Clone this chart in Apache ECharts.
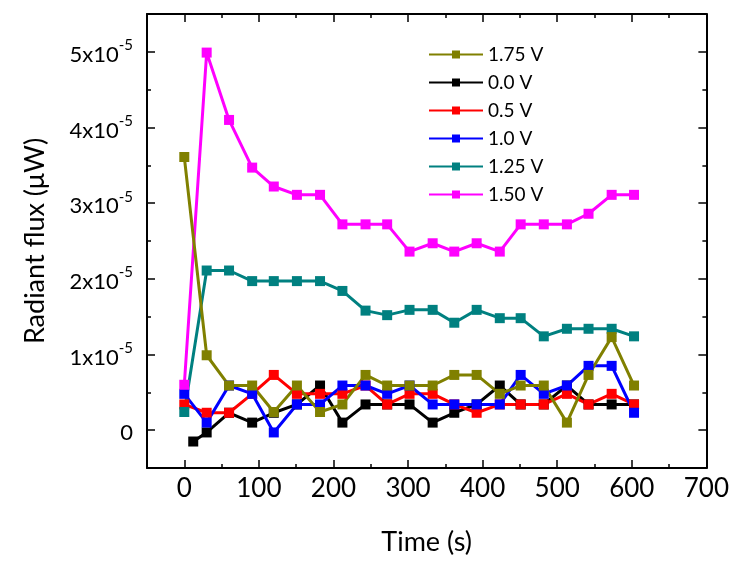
<!DOCTYPE html>
<html>
<head>
<meta charset="utf-8">
<script src="https://cdn.jsdelivr.net/npm/echarts@6/dist/echarts.min.js"></script>
<style>
  html, body { margin: 0; padding: 0; background: #fff; }
  #chart { width: 732px; height: 561px; }
</style>
</head>
<body>
<div id="chart"></div>
<script>
// Sampling times (s); the 0.0 V run starts a little later
const times = [0, 30, 60, 91, 120, 151, 182, 212, 243, 272, 302, 333, 362, 392, 423, 451, 482, 513, 542, 573, 603];
const timesZeroV = [12, 30, 60, 91, 120, 151, 182, 212, 243, 272, 302, 333, 362, 392, 423, 451, 482, 513, 542, 573, 603];

// Radiant flux (µW) for each bias voltage
const flux175 = [3.61e-5, 0.99e-5, 0.59e-5, 0.59e-5, 0.24e-5, 0.59e-5, 0.24e-5, 0.34e-5, 0.73e-5, 0.59e-5, 0.59e-5, 0.59e-5, 0.73e-5, 0.73e-5, 0.48e-5, 0.59e-5, 0.59e-5, 0.10e-5, 0.73e-5, 1.23e-5, 0.59e-5];
const flux000 = [-0.15e-5, -0.03e-5, 0.23e-5, 0.10e-5, 0.23e-5, 0.34e-5, 0.59e-5, 0.10e-5, 0.34e-5, 0.34e-5, 0.34e-5, 0.10e-5, 0.23e-5, 0.34e-5, 0.59e-5, 0.34e-5, 0.34e-5, 0.59e-5, 0.34e-5, 0.34e-5, 0.34e-5];
const flux050 = [0.34e-5, 0.23e-5, 0.23e-5, 0.48e-5, 0.73e-5, 0.48e-5, 0.48e-5, 0.48e-5, 0.59e-5, 0.34e-5, 0.48e-5, 0.48e-5, 0.34e-5, 0.23e-5, 0.34e-5, 0.34e-5, 0.34e-5, 0.48e-5, 0.34e-5, 0.48e-5, 0.34e-5];
const flux100 = [0.48e-5, 0.10e-5, 0.59e-5, 0.48e-5, -0.03e-5, 0.34e-5, 0.34e-5, 0.59e-5, 0.59e-5, 0.48e-5, 0.59e-5, 0.34e-5, 0.34e-5, 0.34e-5, 0.34e-5, 0.73e-5, 0.48e-5, 0.59e-5, 0.85e-5, 0.85e-5, 0.23e-5];
const flux125 = [0.24e-5, 2.11e-5, 2.11e-5, 1.97e-5, 1.97e-5, 1.97e-5, 1.97e-5, 1.84e-5, 1.58e-5, 1.52e-5, 1.59e-5, 1.59e-5, 1.42e-5, 1.59e-5, 1.48e-5, 1.48e-5, 1.24e-5, 1.34e-5, 1.34e-5, 1.34e-5, 1.24e-5];
const flux150 = [0.60e-5, 4.99e-5, 4.10e-5, 3.47e-5, 3.22e-5, 3.11e-5, 3.11e-5, 2.72e-5, 2.72e-5, 2.72e-5, 2.36e-5, 2.47e-5, 2.36e-5, 2.47e-5, 2.36e-5, 2.72e-5, 2.72e-5, 2.72e-5, 2.86e-5, 3.11e-5, 3.11e-5];

// Legend order
const legendOrder = ['1.75 V', '0.0 V', '0.5 V', '1.0 V', '1.25 V', '1.50 V'];

// Axis ticks
const xMajorTicks = [0, 100, 200, 300, 400, 500, 600, 700];
const xMinorTicks = [-50, 50, 150, 250, 350, 450, 550, 650];
const yMajorTicks = [0, 1e-5, 2e-5, 3e-5, 4e-5, 5e-5];
const yMinorTicks = [-0.5e-5, 0.5e-5, 1.5e-5, 2.5e-5, 3.5e-5, 4.5e-5, 5.5e-5];

const FONT = 'Lato';
const X_RANGE = [-50, 700];
const Y_RANGE = [-0.5e-5, 5.5e-5];

function tickAxis(base, ticks, len, withLine) {
  return Object.assign({
    type: 'value',
    axisLine: { show: withLine, onZero: false, lineStyle: { color: '#000', width: 2 } },
    axisTick: { show: true, inside: true, length: len, customValues: ticks, lineStyle: { color: '#000', width: 1.5 } },
    axisLabel: { show: false },
    splitLine: { show: false }
  }, base);
}

const xAxes = [
  // bottom axis with labels and title
  tickAxis({
    position: 'bottom', min: X_RANGE[0], max: X_RANGE[1],
    name: 'Time (s)', nameLocation: 'middle', nameGap: 61,
    nameTextStyle: { fontFamily: FONT, fontSize: 27, color: '#000' },
    axisLabel: { show: true, customValues: xMajorTicks, fontFamily: FONT, fontSize: 26, color: '#000', margin: 8 }
  }, xMajorTicks, 8, true),
  tickAxis({ position: 'bottom', min: X_RANGE[0], max: X_RANGE[1] }, xMinorTicks, 4, false),
  tickAxis({ position: 'top', min: X_RANGE[0], max: X_RANGE[1] }, xMajorTicks, 8, true),
  tickAxis({ position: 'top', min: X_RANGE[0], max: X_RANGE[1] }, xMinorTicks, 4, false)
];

const yAxes = [
  tickAxis({
    position: 'left', min: Y_RANGE[0], max: Y_RANGE[1],
    name: 'Radiant flux (\u03BCW)', nameLocation: 'middle', nameGap: 98, nameRotate: 90,
    nameTextStyle: { fontFamily: FONT, fontSize: 27, color: '#000' },
    axisLabel: {
      show: true, customValues: yMajorTicks, margin: 14, color: '#000',
      fontFamily: FONT, fontSize: 22,
      formatter: function (v) {
        const n = Math.round(v / 1e-5);
        return n === 0 ? '{m|0}' : '{m|' + n + 'x10}{s|-5}';
      },
      rich: {
        m: { fontFamily: FONT, fontSize: 22, color: '#000', lineHeight: 28, verticalAlign: 'bottom' },
        s: { fontFamily: FONT, fontSize: 15, color: '#000', lineHeight: 28, verticalAlign: 'top' }
      }
    }
  }, yMajorTicks, 8, true),
  tickAxis({ position: 'left', min: Y_RANGE[0], max: Y_RANGE[1] }, yMinorTicks, 4, false),
  tickAxis({ position: 'right', min: Y_RANGE[0], max: Y_RANGE[1] }, yMajorTicks, 8, true),
  tickAxis({ position: 'right', min: Y_RANGE[0], max: Y_RANGE[1] }, yMinorTicks, 4, false)
];

function makeSeries(name, t, vals, color) {
  return {
    name: name,
    type: 'line',
    xAxisIndex: 0,
    yAxisIndex: 0,
    data: t.map(function (x, i) { return [x, vals[i]]; }),
    symbol: 'rect',
    symbolSize: 10,
    showAllSymbol: true,
    lineStyle: { color: color, width: 3 },
    itemStyle: { color: color },
    emphasis: { disabled: true },
    animation: false
  };
}

const series = [
  makeSeries('0.0 V', timesZeroV, flux000, '#000000'),
  makeSeries('0.5 V', times, flux050, '#ff0000'),
  makeSeries('1.0 V', times, flux100, '#0000ff'),
  makeSeries('1.25 V', times, flux125, '#008080'),
  makeSeries('1.50 V', times, flux150, '#ff00ff'),
  makeSeries('1.75 V', times, flux175, '#808000')
];

const chart = echarts.init(document.getElementById('chart'), null, { renderer: 'canvas' });
chart.setOption({
  animation: false,
  backgroundColor: '#ffffff',
  grid: { left: 147, right: 25, top: 14, bottom: 91, containLabel: false },
  legend: {
    data: legendOrder,
    orient: 'vertical',
    left: 423,
    top: 40,
    itemWidth: 54,
    itemHeight: 10,
    itemGap: 9,
    textStyle: { fontFamily: FONT, fontSize: 19, lineHeight: 19, color: '#000' },
    selectedMode: false
  },
  xAxis: xAxes,
  yAxis: yAxes,
  series: series
});
</script>
</body>
</html>
